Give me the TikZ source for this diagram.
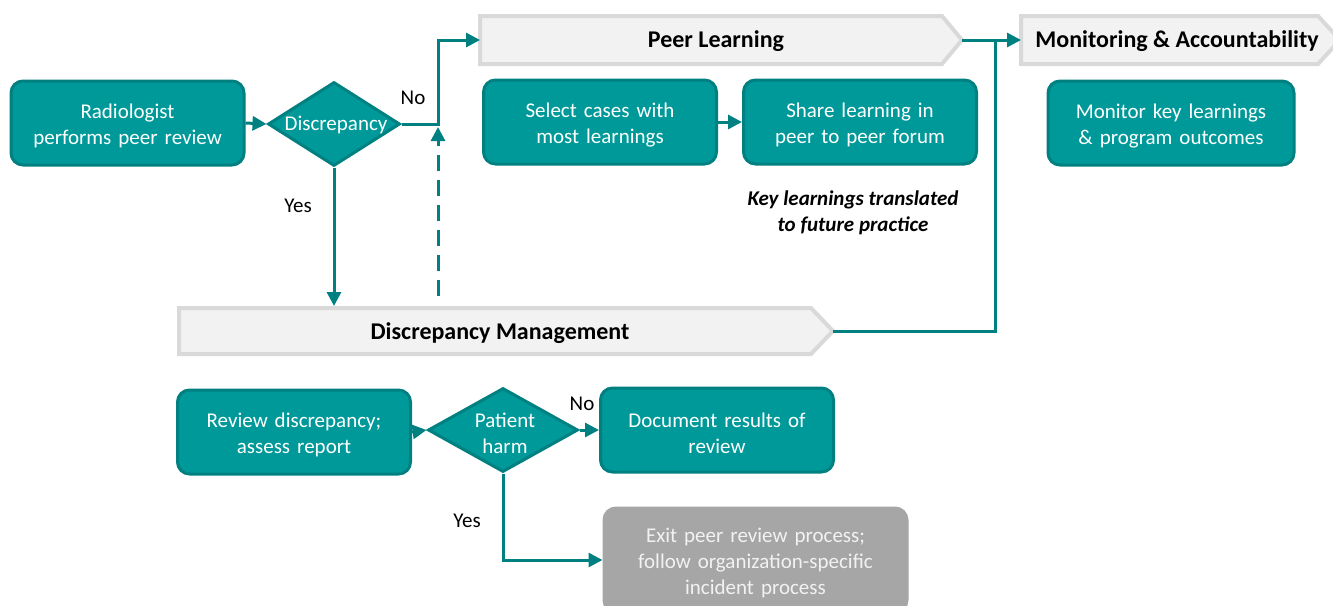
\documentclass[tikz,border=0pt]{standalone}
\usepackage{fontspec}
\setmainfont{Carlito}
\usetikzlibrary{shapes.geometric,arrows.meta,calc}
\definecolor{tealfill}{HTML}{009999}
\definecolor{tealline}{HTML}{008080}
\definecolor{chevfill}{HTML}{F2F2F2}
\definecolor{chevline}{HTML}{D9D9D9}
\definecolor{greyfill}{HTML}{A6A6A6}
\newcommand{\lowstrut}{\rule{0pt}{21pt}}
\tikzset{
  x=1pt, y=-1pt,
  boxnode/.style={rectangle, rounded corners=12pt, fill=tealfill, draw=tealline, line width=3pt,
    minimum width=233pt, minimum height=84pt, text width=228pt, align=center, text=white,
    font=\fontsize{21}{26}\selectfont, inner sep=0pt},
  greybox/.style={boxnode, fill=greyfill, draw=greyfill, text=chevfill},
  decnode/.style={diamond, fill=tealfill, draw=tealline, line width=3pt, inner sep=0pt},
  dectext/.style={text=white, font=\fontsize{21}{26}\selectfont, align=center},
  chev/.style={fill=chevfill, draw=chevline, line width=4pt, line join=miter},
  chevtext/.style={font=\bfseries\fontsize{24}{26}\selectfont, text=black},
  conn/.style={draw=tealline, line width=3pt},
  connA/.style={conn, -{Triangle[length=14pt,width=14pt]}},
  lbl/.style={font=\fontsize{21}{24}\selectfont, text=black},
}
\begin{document}
\begin{tikzpicture}
\useasboundingbox (0,0) rectangle (1333,605);
\begin{scope}
\clip (0,0) rectangle (1333,605);
% chevrons
\draw[chev] (480,16) -- (942,16) -- (962,40) -- (942,64) -- (480,64) -- cycle;
\node[chevtext] (pl) at (716,41) {Peer Learning};
\coordinate (plleft) at (480,40);
\coordinate (pltip) at (962,40);

\draw[chev] (1021,16) -- (1318,16) -- (1340,40) -- (1318,64) -- (1021,64) -- cycle;
\node[chevtext] (ma) at (1177,41) {Monitoring \& Accountability};
\coordinate (maleft) at (1021,40);

\draw[chev] (179,308) -- (811,308) -- (833,331) -- (811,354) -- (179,354) -- cycle;
\node[chevtext] (dm) at (500,333) {Discrepancy Management};
\coordinate (dmtip) at (833,331);

% boxes
\node[boxnode] (rad) at (127.5,123) {\lowstrut Radiologist\\performs peer review};
\node[decnode, minimum width=132pt, minimum height=84pt] (d1) at (334,124) {};
\node[dectext] (d1t) at (336,125) {Discrepancy};

\node[boxnode] (sel) at (600,122) {\lowstrut Select cases with\\most learnings};
\node[boxnode] (share) at (860,122) {\lowstrut Share learning in\\peer to peer forum};
\node[boxnode, minimum width=246pt] (mon) at (1171,123) {\lowstrut Monitor key learnings\\\& program outcomes};

\node[font=\bfseries\itshape\fontsize{21}{26}\selectfont, align=center] (key) at (853,213) {Key learnings translated\\to future practice};

\node[boxnode] (rev) at (294,432) {\lowstrut Review discrepancy;\\assess report};
\node[decnode, minimum width=150pt, minimum height=84pt] (d2) at (503,430) {};
\node[dectext] (d2t) at (505,433) {Patient\\harm};
\node[boxnode] (doc) at (717,430) {\lowstrut Document results of\\review};
\node[greybox, minimum width=303pt, minimum height=104pt, text width=295pt] (exit) at (755.5,560) {\lowstrut Exit peer review process;\\follow organization-specific\\incident process};
\end{scope}

% connectors
\coordinate (j1) at (438,124);
\coordinate (j1b) at (438,127);
\coordinate (dashstart) at (438,296);
\coordinate (dmtop) at (334,306);
\coordinate (j2) at (995,40);

\draw[connA] (rad.east) -- (d1.west);
\draw[connA] (d1.east) -- (j1) |- (plleft);
\draw[connA, dash pattern=on 16pt off 9pt] (dashstart) -- (j1b);
\draw[connA] (d1.south) -- (dmtop);
\draw[connA] (sel.east) -- (share.west);
\draw[connA] (pltip) -- (maleft);
\draw[conn] (dmtip) -| (j2);
\draw[connA] (rev.east) -- (d2.west);
\draw[connA] (d2.east) -- (doc.west);
\draw[connA] (d2.south) |- (exit.west);

% labels
\node[lbl] (no1) at (413,98) {No};
\node[lbl] (yes1) at (298,206) {Yes};
\node[lbl] (no2) at (582,404) {No};
\node[lbl] (yes2) at (467,521) {Yes};
\end{tikzpicture}
\end{document}
